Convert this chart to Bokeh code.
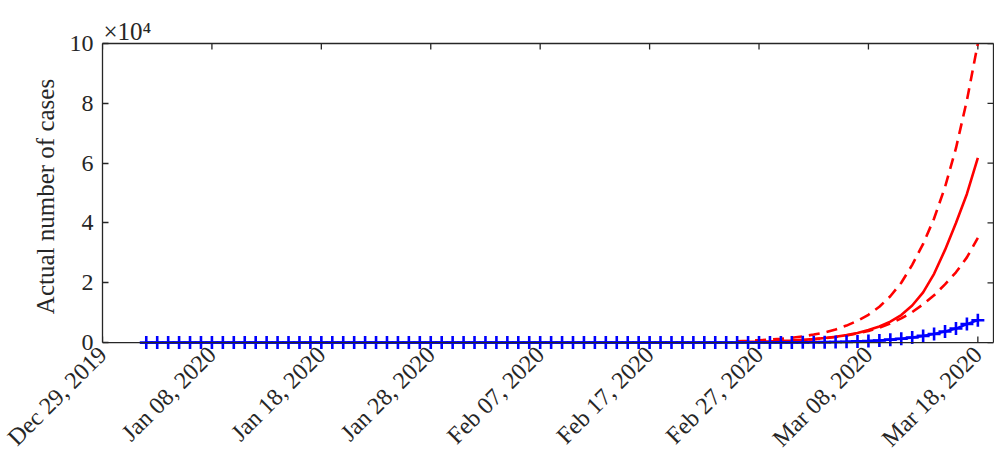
import numpy as np
import pandas as pd
from math import pi
from bokeh.plotting import figure
from bokeh.models import Range1d, FixedTicker, LinearAxis, DatetimeTickFormatter, ColumnDataSource, Span
from bokeh.embed import file_html
from bokeh.resources import INLINE

# ---------------- data ----------------
obs_start = "2020-01-02"
obs_cases = [0] * 20 + [
    1, 1, 2, 2, 5, 5, 5, 5, 5, 7,                                  # Jan 22 - Jan 31
    8, 8, 11, 11, 11, 11, 11, 11, 11, 11, 12, 12, 13, 13, 13, 13,  # Feb 1 - Feb 16
    13, 13, 13, 13, 15, 15, 15, 51, 51, 57, 58, 60, 68,            # Feb 17 - Feb 29
    74, 98, 118, 149, 217, 262, 402, 520, 700, 1000, 1300, 1700,   # Mar 1 - Mar 12
    2250, 2900, 3700, 4700, 6200, 7500,                            # Mar 13 - Mar 18
]

model_start = "2020-02-25"
model_mid = [205, 265, 340, 440, 560, 720, 920, 1180, 1520, 1950, 2500, 3200,
             4200, 5400, 7000, 9200, 12400, 16800, 23000, 31000, 40000, 49700, 61800]
model_upper = [480, 620, 800, 1000, 1300, 1650, 2100, 2700, 3400, 4400, 5700, 7300,
               9300, 12000, 15500, 20000, 26000, 33000, 41500, 52000, 65000, 81000, 100000]
model_lower = [205, 265, 340, 430, 550, 700, 900, 1150, 1470, 1880, 2400, 3050,
               3900, 5000, 6400, 8100, 10200, 12800, 15800, 19500, 23500, 28500, 35000]

x_tick_dates = ["2019-12-29", "2020-01-08", "2020-01-18", "2020-01-28", "2020-02-07",
                "2020-02-17", "2020-02-27", "2020-03-08", "2020-03-18"]
y_ticks = [0, 20000, 40000, 60000, 80000, 100000]
y_tick_labels = ["0", "2", "4", "6", "8", "10"]
exponent_text = "×10⁴"

# --------------------------------------
def ms(d):
    return pd.Timestamp(d).value / 1e6

obs_dates = pd.date_range(obs_start, periods=len(obs_cases), freq="D")
mod_dates = pd.date_range(model_start, periods=len(model_mid), freq="D")
obs_src = ColumnDataSource(dict(x=obs_dates, y=obs_cases))
mod_src = ColumnDataSource(dict(x=mod_dates, mid=model_mid, up=model_upper, lo=model_lower))

day = 86400000.0
x0 = ms(x_tick_dates[0])
x1 = x0 + 81.43 * day
y_lo = -2300          # small pad below zero so the markers on the zero line are not cut
y_hi = y_ticks[-1]

FONT = "Liberation Serif"
AX = "#262626"

p = figure(width=994, height=463, x_axis_type="datetime", output_backend="svg",
           toolbar_location=None, min_border_left=102, min_border_right=1,
           min_border_top=43, min_border_bottom=114,
           x_range=Range1d(x0, x1), y_range=Range1d(y_lo, y_hi))
p.background_fill_color = "white"
p.border_fill_color = "white"
p.grid.visible = False
p.outline_line_color = None

p.title.text = exponent_text
p.title.text_font = FONT
p.title.text_font_size = "25px"
p.title.text_font_style = "normal"
p.title.text_color = AX
p.title.align = "left"
p.title.offset = 1
p.title.standoff = -2

xt = [ms(d) for d in x_tick_dates]
xa = p.xaxis[0]
xa.ticker = FixedTicker(ticks=xt)
fmt = "%b %d, %Y"
xa.formatter = DatetimeTickFormatter(days=fmt, months=fmt, years=fmt, hours=fmt,
                                     hourmin=fmt, minutes=fmt, minsec=fmt, seconds=fmt,
                                     milliseconds=fmt, microseconds=fmt)
xa.major_label_orientation = pi / 4
xa.major_label_text_font_size = "24px"
xa.major_label_standoff = 1
xa.axis_line_color = None
xa.major_tick_line_color = None
xa.major_tick_in = 0
xa.major_tick_out = 0

ya = p.yaxis[0]
ya.ticker = FixedTicker(ticks=y_ticks)
ya.bounds = (0, y_hi)
ya.major_label_overrides = {t: l for t, l in zip(y_ticks, y_tick_labels)}
ya.axis_label = "Actual number of cases"
ya.axis_label_text_font = FONT
ya.axis_label_text_font_size = "25px"
ya.axis_label_text_font_style = "normal"
ya.axis_label_text_color = AX
ya.axis_label_standoff = 8
ya.major_label_text_font_size = "24px"
ya.major_label_standoff = 9
ya.major_tick_in = 6
ya.major_tick_out = 0
ya.major_tick_line_color = AX
ya.major_tick_line_width = 1.3
ya.axis_line_color = AX
ya.axis_line_width = 1.3

for ax in (xa, ya):
    ax.minor_tick_in = 0
    ax.minor_tick_out = 0
    ax.major_label_text_font = FONT
    ax.major_label_text_color = AX

# box lines on top and right (no labels)
top = LinearAxis(ticker=FixedTicker(ticks=[]), major_tick_in=0, major_tick_out=0,
                 minor_tick_in=0, minor_tick_out=0, axis_line_color=AX, axis_line_width=1.3,
                 major_label_standoff=0)
right = LinearAxis(ticker=FixedTicker(ticks=[]), major_tick_in=0, major_tick_out=0,
                   minor_tick_in=0, minor_tick_out=0, axis_line_color=AX, axis_line_width=1.3,
                   major_label_standoff=0, bounds=(0, y_hi))
p.add_layout(top, "above")
p.add_layout(right, "right")

# zero line acting as the bottom axis line
p.add_layout(Span(location=0, dimension="width", line_color=AX, line_width=1.3))

# inward ticks on top and right (half of each dash is cut by the frame)
p.scatter(xt, [y_hi] * len(xt), marker="dash", angle=pi / 2, size=12,
          line_color=AX, line_width=1.3)
p.scatter([x1] * len(y_ticks), y_ticks, marker="dash", size=12,
          line_color=AX, line_width=1.3)
# inward ticks on the bottom (zero) line
tick_len = 6 * (y_hi - y_lo) / 306.0
p.segment(x0=xt, y0=[0] * len(xt), x1=xt, y1=[tick_len] * len(xt),
          line_color=AX, line_width=1.3)

# model curves
p.line("x", "up", source=mod_src, line_color="#ff0000", line_width=2.6, line_dash="11 7")
p.line("x", "lo", source=mod_src, line_color="#ff0000", line_width=2.6, line_dash="11 7")
p.line("x", "mid", source=mod_src, line_color="#ff0000", line_width=2.6)

# observed
p.line("x", "y", source=obs_src, line_color="#0000ff", line_width=2.5)
p.scatter("x", "y", source=obs_src, marker="cross", size=13, line_color="#0000ff", line_width=2.6)

open("out.html", "w").write(file_html(p, INLINE))
